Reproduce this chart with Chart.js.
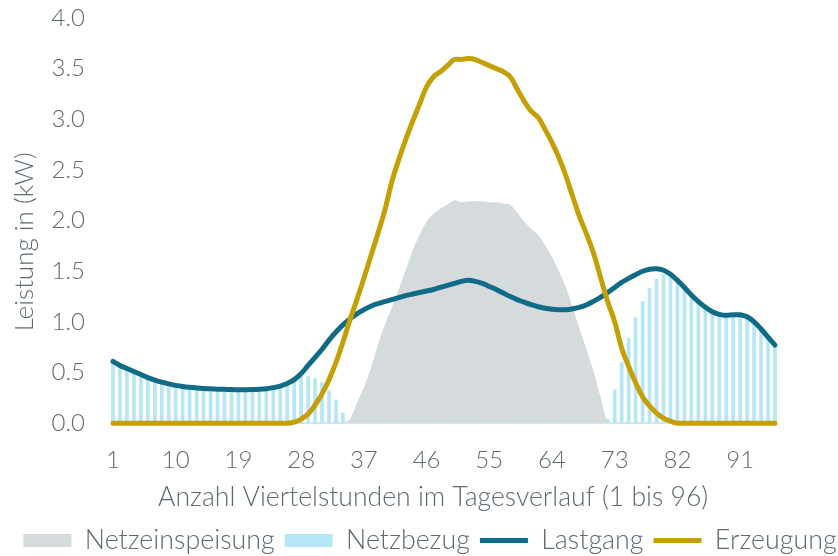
<!DOCTYPE html>
<html>
<head>
<meta charset="utf-8">
<script src="https://cdn.jsdelivr.net/npm/chart.js@4"></script>
<style>
  body { margin: 0; background: #fff; }
  #wrap { width: 838px; height: 556px; }
</style>
</head>
<body>
<div id="wrap"><canvas id="myChart"></canvas></div>
<script>
// quarter hours 1..96
const categories = [
  1, 2, 3, 4, 5, 6, 7, 8, 9, 10, 11, 12, 13, 14, 15, 16, 17, 18, 19, 20, 21, 22, 23, 24,
  25, 26, 27, 28, 29, 30, 31, 32, 33, 34, 35, 36, 37, 38, 39, 40, 41, 42, 43, 44, 45, 46, 47, 48,
  49, 50, 51, 52, 53, 54, 55, 56, 57, 58, 59, 60, 61, 62, 63, 64, 65, 66, 67, 68, 69, 70, 71, 72,
  73, 74, 75, 76, 77, 78, 79, 80, 81, 82, 83, 84, 85, 86, 87, 88, 89, 90, 91, 92, 93, 94, 95, 96
];
const xTickLabels = ['1', '10', '19', '28', '37', '46', '55', '64', '73', '82', '91'];
const yTickLabels = ['0.0', '0.5', '1.0', '1.5', '2.0', '2.5', '3.0', '3.5', '4.0'];

const netzeinspeisung = [
  0, 0, 0, 0, 0, 0, 0, 0, 0, 0, 0, 0, 0, 0, 0, 0, 0, 0, 0, 0, 0, 0, 0, 0,
  0, 0, 0, 0, 0, 0, 0, 0, 0, 0, 0.04, 0.2, 0.35, 0.54, 0.77, 0.97, 1.14, 1.32, 1.51, 1.71, 1.86, 1.99, 2.07, 2.12,
  2.16, 2.2, 2.18, 2.19, 2.19, 2.19, 2.18, 2.18, 2.17, 2.16, 2.08, 1.99, 1.92, 1.86, 1.76, 1.64, 1.5, 1.34, 1.14, 0.92, 0.72, 0.5, 0.25, 0,
  0, 0, 0, 0, 0, 0, 0, 0, 0, 0, 0, 0, 0, 0, 0, 0, 0, 0, 0, 0, 0, 0, 0, 0
];
const netzbezug = [
  0.6, 0.56, 0.53, 0.5, 0.47, 0.44, 0.41, 0.39, 0.37, 0.36, 0.35, 0.34, 0.34, 0.33, 0.33, 0.32, 0.32, 0.32, 0.32, 0.32, 0.32, 0.33, 0.34, 0.35,
  0.37, 0.39, 0.43, 0.46, 0.46, 0.44, 0.4, 0.32, 0.23, 0.1, 0, 0, 0, 0, 0, 0, 0, 0, 0, 0, 0, 0, 0, 0,
  0, 0, 0, 0, 0, 0, 0, 0, 0, 0, 0, 0, 0, 0, 0, 0, 0, 0, 0, 0, 0, 0, 0, 0.04,
  0.33, 0.6, 0.84, 1.04, 1.2, 1.33, 1.42, 1.47, 1.45, 1.4, 1.32, 1.25, 1.18, 1.13, 1.08, 1.06, 1.05, 1.06, 1.06, 1.04, 0.99, 0.92, 0.84, 0.76
];
const lastgang = [
  0.61, 0.57, 0.54, 0.51, 0.48, 0.45, 0.425, 0.405, 0.388, 0.373, 0.362, 0.354, 0.348, 0.343, 0.339, 0.336, 0.334, 0.332, 0.331, 0.331, 0.332, 0.335, 0.341, 0.351,
  0.367, 0.392, 0.43, 0.49, 0.57, 0.65, 0.73, 0.82, 0.9, 0.97, 1.03, 1.08, 1.12, 1.155, 1.18, 1.2, 1.22, 1.24, 1.26, 1.275, 1.29, 1.305, 1.32, 1.34,
  1.36, 1.38, 1.4, 1.41, 1.4, 1.38, 1.35, 1.32, 1.285, 1.25, 1.22, 1.195, 1.17, 1.15, 1.135, 1.125, 1.12, 1.12, 1.13, 1.145, 1.17, 1.205, 1.245, 1.29,
  1.34, 1.39, 1.43, 1.465, 1.5, 1.52, 1.525, 1.51, 1.47, 1.41, 1.34, 1.265, 1.2, 1.145, 1.1, 1.075, 1.065, 1.07, 1.07, 1.05, 1.0, 0.93, 0.85, 0.77
];
const erzeugung = [
  0, 0, 0, 0, 0, 0, 0, 0, 0, 0, 0, 0, 0, 0, 0, 0, 0, 0, 0, 0, 0, 0, 0, 0,
  0, 0, 0.01, 0.04, 0.09, 0.18, 0.29, 0.43, 0.6, 0.8, 1.02, 1.22, 1.43, 1.65, 1.87, 2.1, 2.38, 2.6, 2.8, 2.98, 3.15, 3.32, 3.42, 3.47,
  3.53, 3.59, 3.59, 3.6, 3.59, 3.56, 3.53, 3.5, 3.47, 3.42, 3.3, 3.18, 3.08, 3.02, 2.9, 2.77, 2.62, 2.44, 2.23, 2.03, 1.86, 1.67, 1.43, 1.2,
  1.0, 0.74, 0.56, 0.4, 0.26, 0.17, 0.1, 0.05, 0.02, 0, 0, 0, 0, 0, 0, 0, 0, 0, 0, 0, 0, 0, 0, 0
];

const textColor = '#5d6a72';
const fontFamily = 'Lato, "Open Sans", sans-serif';

const ctx = document.getElementById('myChart');

new Chart(ctx, {
    type: 'line',
    data: {
        labels: categories,
        datasets: [
            {
                label: 'Netzeinspeisung',
                data: netzeinspeisung,
                fill: 'origin',
                backgroundColor: '#d5dadd',
                borderWidth: 0,
                pointRadius: 0,
                pointStyle: 'rect',
                tension: 0.2,
                order: 4
            },
            {
                type: 'bar',
                label: 'Netzbezug',
                data: netzbezug,
                backgroundColor: '#b4e6f6',
                borderWidth: 0,
                barThickness: 3,
                pointStyle: 'rect',
                order: 3
            },
            {
                label: 'Lastgang',
                data: lastgang,
                borderColor: '#0f6b86',
                backgroundColor: '#0f6b86',
                borderWidth: 5,
                borderCapStyle: 'round',
                pointRadius: 0,
                pointStyle: 'line',
                tension: 0.4,
                fill: false,
                order: 2
            },
            {
                label: 'Erzeugung',
                data: erzeugung,
                borderColor: '#c59f06',
                backgroundColor: '#c59f06',
                borderWidth: 5,
                borderCapStyle: 'round',
                pointRadius: 0,
                pointStyle: 'line',
                tension: 0.4,
                fill: false,
                order: 1
            }
        ]
    },
    options: {
        responsive: true,
        maintainAspectRatio: false,
        animation: false,
        clip: false,
        layout: {
            padding: { top: 18, right: -13, left: 9, bottom: -8 }
        },
        plugins: {
            tooltip: { enabled: false },
            legend: {
                position: 'bottom',
                labels: {
                    usePointStyle: true,
                    pointStyleWidth: 48,
                    boxHeight: 13,
                    padding: 10,
                    color: textColor,
                    font: { family: fontFamily, size: 26.8, weight: 300 },
                    sort: (a, b) => a.datasetIndex - b.datasetIndex
                }
            }
        },
        scales: {
            x: {
                type: 'category',
                offset: false,
                grid: { display: false, drawTicks: false },
                border: { display: true, color: '#e1e4e6', width: 2 },
                ticks: {
                    autoSkip: false,
                    maxRotation: 0,
                    padding: 23,
                    color: textColor,
                    font: { family: fontFamily, size: 24, weight: 300 },
                    callback: function (value, index) {
                        const lbl = String(categories[index]);
                        return xTickLabels.includes(lbl) ? lbl : '';
                    }
                },
                title: {
                    display: true,
                    // trailing spaces shift the centred title slightly left
                    text: 'Anzahl Viertelstunden im Tagesverlauf (1 bis 96)\u00a0\u00a0\u00a0',
                    color: textColor,
                    font: { family: fontFamily, size: 26.6, weight: 300 },
                    padding: { top: 0, bottom: 4 }
                },
                afterFit: function (scale) {
                    scale.height = 94;
                    scale.paddingLeft = 0;
                    scale.paddingRight = 63;
                }
            },
            y: {
                min: 0,
                max: 4,
                grid: { display: false, drawTicks: false },
                border: { display: false },
                ticks: {
                    stepSize: 0.5,
                    padding: 28,
                    color: textColor,
                    font: { family: fontFamily, size: 24, weight: 300 },
                    callback: function (value, index) {
                        return yTickLabels[index];
                    }
                },
                title: {
                    display: true,
                    // trailing spaces nudge the rotated title down a little
                    text: 'Leistung in (kW)\u00a0\u00a0\u00a0\u00a0\u00a0\u00a0',
                    color: textColor,
                    font: { family: fontFamily, size: 26, weight: 300 },
                    padding: { top: 0, bottom: 8 }
                },
                afterFit: function (scale) {
                    scale.width = 104;
                    scale.paddingTop = 0;
                    scale.paddingBottom = 0;
                }
            }
        }
    }
});
</script>
</body>
</html>
